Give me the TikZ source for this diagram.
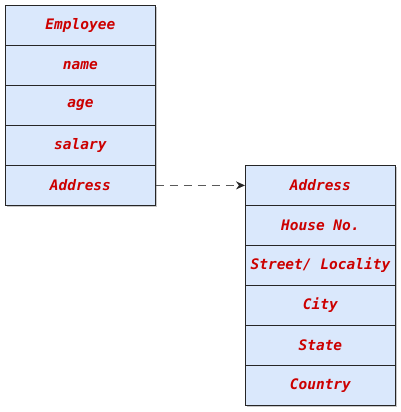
\documentclass[tikz,border=0pt]{standalone}
\usepackage{fontspec}
\setmonofont{DejaVu Sans Mono}
\usetikzlibrary{shadows,arrows.meta}
\definecolor{cellfill}{HTML}{DAE8FC}
\definecolor{txtred}{HTML}{CC0000}
\tikzset{
  cell/.style={draw=black!85, line width=0.8pt, fill=cellfill, minimum width=150pt, minimum height=40pt,
    inner sep=0pt, font=\fontsize{14.5pt}{16pt}\ttfamily\bfseries\itshape, text=txtred, anchor=north west},
  link/.style={draw=black!65, line width=1pt, dash pattern=on 8pt off 6pt, -{Stealth[length=9pt,width=8pt,black!85]}}
}
\begin{document}
\begin{tikzpicture}[x=1pt,y=-1pt]
\useasboundingbox (0,0) rectangle (401,412);
\fill[black,opacity=0.22] (7,7) rectangle (157,207);
\fill[black,opacity=0.22] (247,167) rectangle (397,407);
\node[cell] (e1) at (5,5) {Employee};
\node[cell] (e2) at (5,45) {name};
\node[cell] (e3) at (5,85) {age};
\node[cell] (e4) at (5,125) {salary};
\node[cell] (e5) at (5,165) {Address};
\node[cell] (a1) at (245,165) {Address};
\node[cell] (a2) at (245,205) {House No.};
\node[cell] (a3) at (245,245) {Street/ Locality};
\node[cell] (a4) at (245,285) {City};
\node[cell] (a5) at (245,325) {State};
\node[cell] (a6) at (245,365) {Country};
\draw[link] (e5.east) -- (a1.west);
\end{tikzpicture}
\end{document}
